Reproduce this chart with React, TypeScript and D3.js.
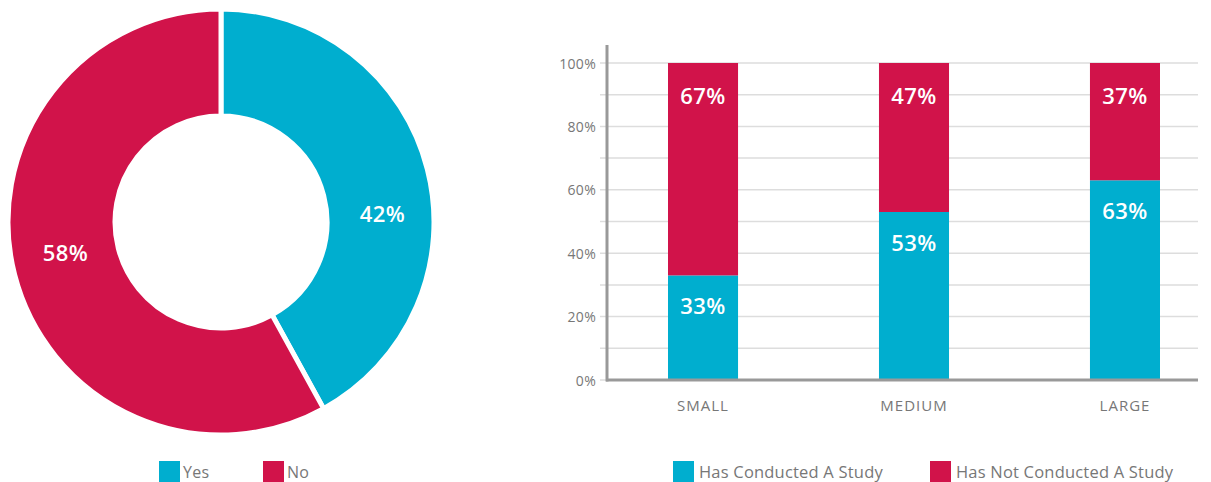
import React from "react";
import * as d3 from "d3";

const pieLabels = ["Yes", "No"];
const pieValues = [42, 58];
const categories = ["SMALL", "MEDIUM", "LARGE"];
const conducted = [33, 53, 63];
const notConducted = [67, 47, 37];
const yTicks = [0, 20, 40, 60, 80, 100];
const seriesNames = ["Has Conducted A Study", "Has Not Conducted A Study"];

const TEAL = "#00AECF";
const RED = "#D1134A";
const FONT = "'Open Sans', 'Noto Sans', sans-serif";

export default function App() {
  const W = 1211, H = 482;
  // donut
  const cx = 221, cy = 222, rOut = 213, rIn = 106;
  const pie = d3.pie<number>().sort(null).value((d) => d)(pieValues);
  const arc = d3.arc<d3.PieArcDatum<number>>().innerRadius(rIn).outerRadius(rOut);
  const pad = 2.5;
  // bar chart
  const x = d3.scaleBand().domain(categories).range([668, 1160]).paddingInner(0.668).paddingOuter(0);
  const y = d3.scaleLinear().domain([0, 100]).range([380, 63]);
  const labelOffsets = [[7, 31], [-1, -10]];
  return (
    <svg width={W} height={H} style={{ position: "absolute", left: 0, top: 0, fontFamily: FONT }}>
      <g>
        {pie.map((p, i) => {
          const c = arc.centroid(p);
          const path = arc(p) as string;
          return (
            <g key={i}>
              <path d={path} fill={i === 0 ? TEAL : RED} stroke="#fff" strokeWidth={pad * 2} strokeLinejoin="miter" transform={`translate(${cx},${cy})`} />
              <text
                x={cx + c[0] + labelOffsets[i][0]}
                y={cy + c[1] + labelOffsets[i][1]}
                textAnchor="middle"
                dominantBaseline="central"
                fill="#fff"
                fontSize={22}
                fontWeight={600}
                letterSpacing={0.5}
              >
                {pieValues[i]}%
              </text>
            </g>
          );
        })}
      </g>
      {/* pie legend */}
      {pieLabels.map((l, i) => (
        <g key={l} transform={`translate(${159 + i * 104},461)`}>
          <rect width={21} height={21} fill={i === 0 ? TEAL : RED} />
          <text x={24} y={17} fontSize={16} fill="#777" letterSpacing={0.3}>{l}</text>
        </g>
      ))}
      {/* grid */}
      {d3.range(0, 101, 10).map((t) => (
        <line key={t} x1={600} x2={1198} y1={y(t)} y2={y(t)} stroke="#ddd" strokeWidth={1.5} />
      ))}
      {yTicks.map((t) => (
        <text key={t} x={596} y={y(t)} textAnchor="end" dominantBaseline="central" fontSize={14} fill="#777" letterSpacing={0.3}>
          {t}%
        </text>
      ))}
      {categories.map((c, i) => {
        const bx = x(c)!;
        const bw = x.bandwidth();
        return (
          <g key={c}>
            <rect x={bx} y={y(conducted[i])} width={bw} height={y(0) - y(conducted[i])} fill={TEAL} />
            <rect x={bx} y={y(100)} width={bw} height={y(conducted[i]) - y(100)} fill={RED} />
            <text x={bx + bw / 2} y={y(100) + 32} textAnchor="middle" dominantBaseline="central" fill="#fff" fontSize={22} fontWeight={600} letterSpacing={0.5}>
              {notConducted[i]}%
            </text>
            <text x={bx + bw / 2} y={y(conducted[i]) + 30} textAnchor="middle" dominantBaseline="central" fill="#fff" fontSize={22} fontWeight={600} letterSpacing={0.5}>
              {conducted[i]}%
            </text>
            <text x={bx + bw / 2} y={405} textAnchor="middle" dominantBaseline="central" fontSize={15} fill="#777" letterSpacing={1}>
              {c}
            </text>
          </g>
        );
      })}
      <line x1={607} x2={607} y1={45} y2={381.5} stroke="#999" strokeWidth={3} />
      <line x1={606} x2={1198} y1={380} y2={380} stroke="#999" strokeWidth={3} />
      {/* bar legend */}
      {seriesNames.map((s, i) => (
        <g key={s} transform={`translate(${673 + i * 257},461)`}>
          <rect width={21} height={21} fill={i === 0 ? TEAL : RED} />
          <text x={26} y={17} fontSize={16.5} fill="#777" letterSpacing={0.2}>{s}</text>
        </g>
      ))}
    </svg>
  );
}
